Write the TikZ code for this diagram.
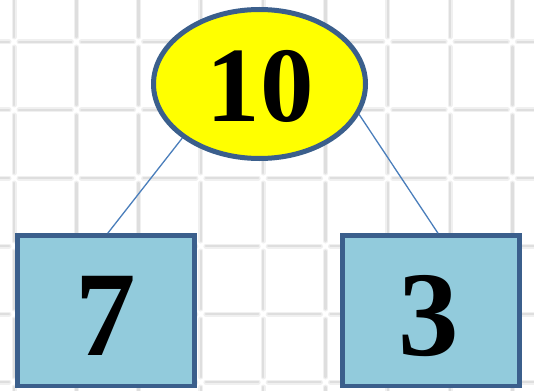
\documentclass[tikz,border=0pt]{standalone}
\usepackage{fontspec}
\setmainfont{Liberation Serif}
\usetikzlibrary{shapes.geometric,calc}
\definecolor{gridgray}{RGB}{222,222,222}
\definecolor{gridhalo}{RGB}{240,240,240}
\definecolor{edgeblue}{RGB}{59,95,140}
\definecolor{linkblue}{RGB}{74,126,187}
\definecolor{boxfill}{RGB}{146,203,220}
\definecolor{ellfill}{RGB}{255,255,0}
\tikzset{
  gridhaloseg/.style={draw=gridhalo, line width=5pt, line cap=round},
  gridseg/.style={draw=gridgray, line width=2.4pt, line cap=round},
  numbox/.style={draw=edgeblue, line width=4.5pt, fill=boxfill, rectangle, minimum width=177pt, minimum height=150.5pt, inner sep=0pt},
  numell/.style={draw=edgeblue, line width=5pt, fill=ellfill, ellipse, minimum width=212pt, minimum height=149pt, inner sep=0pt},
  bignum/.style={inner sep=0pt},
  link/.style={draw=linkblue, line width=1.3pt}
}
\begin{document}
\begin{tikzpicture}[x=1pt,y=-1pt]
\useasboundingbox (0,0) rectangle (534,390);
\fill[white] (0,0) rectangle (534,390);
\begin{scope}
\clip (0,0) rectangle (534,390);
\foreach \k in {-1,...,8}{
  \foreach \j in {-1,...,6}{
    \pgfmathsetmacro{\xa}{14+62.3*\k}
    \pgfmathsetmacro{\xb}{14+62.3*(\k+1)}
    \pgfmathsetmacro{\ya}{42+68*\j}
    \pgfmathsetmacro{\yb}{42+68*(\j+1)}
    \draw[gridhaloseg] (\xa+5,\ya) -- (\xb-5,\ya);
    \draw[gridhaloseg] (\xa,\ya+5) -- (\xa,\yb-5);
    \draw[gridseg] (\xa+5,\ya) -- (\xb-5,\ya);
    \draw[gridseg] (\xa,\ya+5) -- (\xa,\yb-5);
  }
}
\end{scope}
\node[numell] (e) at (259.5,84) {};
\node[numbox] (l) at (105.75,310.75) {};
\node[numbox] (r) at (431,310.75) {};
\coordinate (lt) at ($(l.north)+(2,0)$);
\coordinate (rt) at ($(r.north)+(7,0)$);
\draw[link] (e.215.5) -- (lt);
\draw[link] (e.-17) -- (rt);
\node[bignum, font=\fontsize{107}{110}\bfseries\selectfont] (t10) at (260,86.5) {10};
\node[bignum, font=\fontsize{121}{125}\bfseries\selectfont] (t7) at (106,316) {7};
\node[bignum, font=\fontsize{121}{125}\bfseries\selectfont] (t3) at (429,316) {3};
\end{tikzpicture}
\end{document}
